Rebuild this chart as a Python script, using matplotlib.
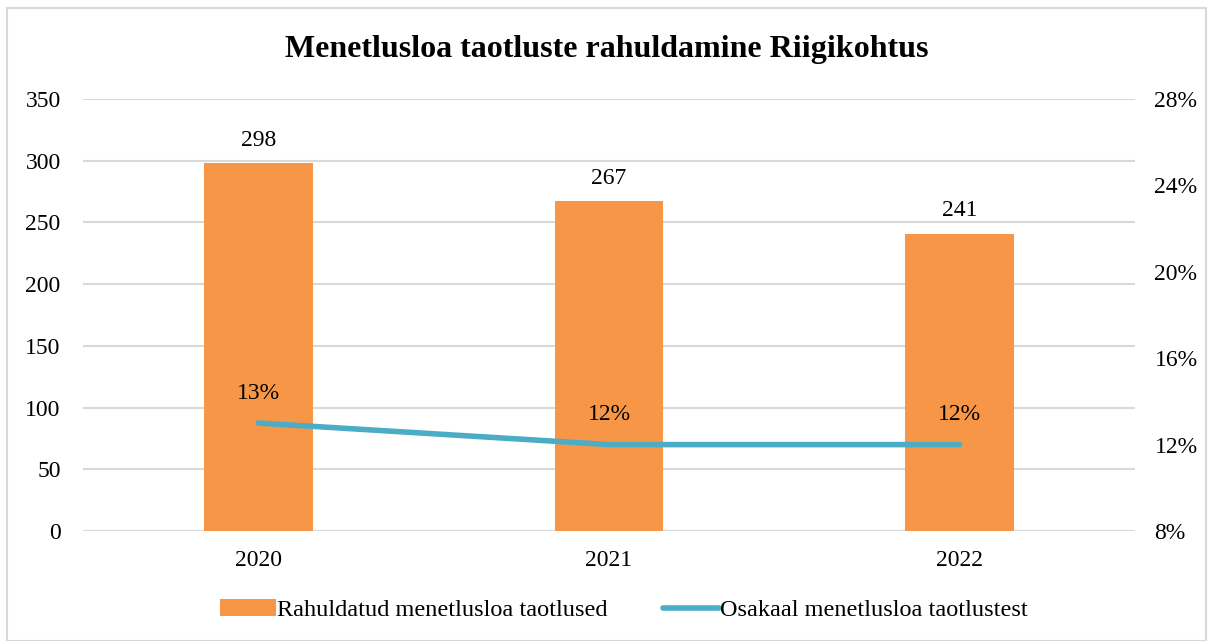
import numpy as np
import matplotlib.pyplot as plt
from matplotlib.patches import Rectangle

# data
years = ['2020', '2021', '2022']
granted = [298, 267, 241]
share = [13, 12, 12]  # percent

title = 'Menetlusloa taotluste rahuldamine Riigikohtus'
bar_label = 'Rahuldatud menetlusloa taotlused'
line_label = 'Osakaal menetlusloa taotlustest'

orange = '#F79646'
teal = '#4BACC6'
grid_col = '#D9D9D9'

plt.rcParams['font.family'] = ['Liberation Serif', 'DejaVu Serif']

fig = plt.figure(figsize=(12.13, 6.41), dpi=100)
fig.patches.append(Rectangle((0.006, 0.0), 0.988, 0.987, transform=fig.transFigure,
                             fill=False, edgecolor='#D9D9D9', linewidth=1.5))

ax = fig.add_axes([0.0684, 0.1716, 0.8673, 0.674])
x = np.arange(len(years))
bars = ax.bar(x, granted, width=0.31, color=orange, label=bar_label, zorder=2)
ax.set_xlim(-0.5, len(years) - 0.5)
ax.set_ylim(0, 350)
ax.set_yticks(np.arange(0, 351, 50))
ax.set_xticks(x)
ax.set_xticklabels(years)
ax.grid(axis='y', color=grid_col, linewidth=1.5, zorder=0)
ax.set_axisbelow(True)
for s in ax.spines.values():
    s.set_visible(False)
ax.tick_params(axis='both', length=0, labelsize=17)
ax.tick_params(axis='y', pad=16)
ax.tick_params(axis='x', pad=14)
for xi, v in zip(x, granted):
    ax.annotate(str(v), (xi, v), xytext=(0, 9), textcoords='offset points',
                ha='center', va='bottom', fontsize=17)

ax2 = ax.twinx()
ax2.plot(x, share, color=teal, linewidth=4, solid_capstyle='round', label=line_label, zorder=3)
ax2.set_ylim(8, 28)
ax2.set_yticks(np.arange(8, 29, 4))
ax2.set_yticklabels([f'{t}%' for t in range(8, 29, 4)])
for s in ax2.spines.values():
    s.set_visible(False)
ax2.tick_params(axis='y', length=0, labelsize=17, pad=14)
for xi, v in zip(x, share):
    ax2.annotate(f'{v}%', (xi, v), xytext=(0, 14), textcoords='offset points',
                 ha='center', va='bottom', fontsize=17)

fig.suptitle(title, fontsize=23, fontweight='bold', y=0.922, va='center')

h1, l1 = ax.get_legend_handles_labels()
h2, l2 = ax2.get_legend_handles_labels()
fig.legend(h1 + h2, l1 + l2, loc='center', bbox_to_anchor=(0.5144, 0.048), ncol=2,
           frameon=False, fontsize=17.5, handlelength=2.3, handletextpad=0.05,
           columnspacing=2.25)

plt.savefig('out.png', dpi=100)
